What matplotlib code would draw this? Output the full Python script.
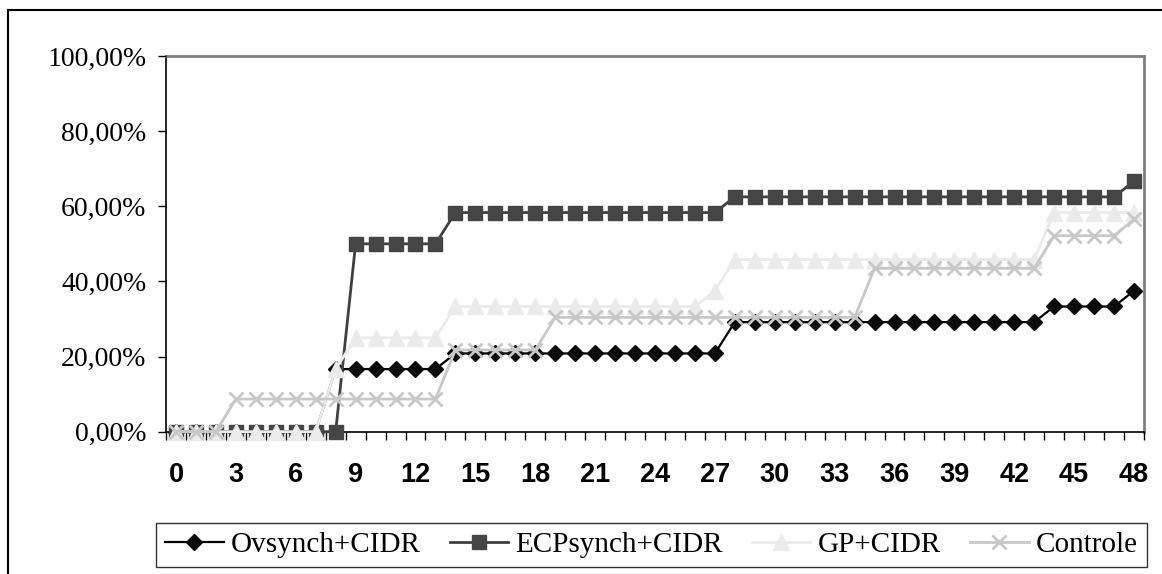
import matplotlib
matplotlib.use("Agg")
import matplotlib.pyplot as plt
from matplotlib.lines import Line2D
from matplotlib.ticker import FixedLocator, FuncFormatter

days = list(range(49))
tick_days = [0, 3, 6, 9, 12, 15, 18, 21, 24, 27, 30, 33, 36, 39, 42, 45, 48]

ovsynch = [0, 0, 0, 0, 0, 0, 0, 0,
           16.67, 16.67, 16.67, 16.67, 16.67, 16.67,
           20.83, 20.83, 20.83, 20.83, 20.83, 20.83, 20.83, 20.83, 20.83, 20.83, 20.83, 20.83, 20.83, 20.83,
           29.17, 29.17, 29.17, 29.17, 29.17, 29.17, 29.17, 29.17, 29.17, 29.17, 29.17, 29.17, 29.17, 29.17, 29.17, 29.17,
           33.33, 33.33, 33.33, 33.33,
           37.5]
ecpsynch = [0, 0, 0, 0, 0, 0, 0, 0, 0,
            50, 50, 50, 50, 50,
            58.33, 58.33, 58.33, 58.33, 58.33, 58.33, 58.33, 58.33, 58.33, 58.33, 58.33, 58.33, 58.33, 58.33,
            62.5, 62.5, 62.5, 62.5, 62.5, 62.5, 62.5, 62.5, 62.5, 62.5, 62.5, 62.5, 62.5, 62.5, 62.5, 62.5, 62.5, 62.5, 62.5, 62.5,
            66.67]
gp = [0, 0, 0, 0, 0, 0, 0, 0,
      16.67,
      25, 25, 25, 25, 25,
      33.33, 33.33, 33.33, 33.33, 33.33, 33.33, 33.33, 33.33, 33.33, 33.33, 33.33, 33.33, 33.33,
      37.5,
      45.83, 45.83, 45.83, 45.83, 45.83, 45.83, 45.83, 45.83, 45.83, 45.83, 45.83, 45.83, 45.83, 45.83, 45.83, 45.83,
      58.33, 58.33, 58.33, 58.33, 58.33]
controle = [0, 0, 0,
            8.70, 8.70, 8.70, 8.70, 8.70, 8.70, 8.70, 8.70, 8.70, 8.70, 8.70,
            21.74, 21.74, 21.74, 21.74, 21.74,
            30.43, 30.43, 30.43, 30.43, 30.43, 30.43, 30.43, 30.43, 30.43, 30.43, 30.43, 30.43, 30.43, 30.43, 30.43, 30.43,
            43.48, 43.48, 43.48, 43.48, 43.48, 43.48, 43.48, 43.48, 43.48,
            52.17, 52.17, 52.17, 52.17,
            56.52]

series_names = ["Ovsynch+CIDR", "ECPsynch+CIDR", "GP+CIDR", "Controle"]

W, H = 1162, 574
fig = plt.figure(figsize=(W / 100, H / 100), dpi=100)
ax = fig.add_axes([166 / W, 1 - 431.7 / H, (1144 - 166) / W, (431.7 - 56) / H])

ax.plot(days, ovsynch, color="#000000", lw=1.6, marker="D", ms=8,
        markerfacecolor="#0a0a0a", markeredgecolor="#0a0a0a", label=series_names[0], clip_on=False)
ax.plot(days, ecpsynch, color="#404040", lw=2.0, marker="s", ms=10,
        markerfacecolor="#454545", markeredgecolor="#454545", label=series_names[1], clip_on=False)
ax.plot(days, gp, color="#ebebeb", lw=2.0, marker="^", ms=11,
        markerfacecolor="#ebebeb", markeredgecolor="#ebebeb", label=series_names[2], clip_on=False)
ax.plot(days, controle, color="#c8c8c8", lw=2.0, marker="x", ms=10, mew=2,
        markeredgecolor="#c8c8c8", label=series_names[3], clip_on=False)

ax.set_xlim(-0.5, 48.5)
ax.set_ylim(0, 100)

serif = "Liberation Serif"
sans = "Liberation Sans"

ax.xaxis.set_major_locator(FixedLocator(tick_days))
ax.xaxis.set_minor_locator(FixedLocator([d - 0.5 for d in days] + [48.5]))
ax.tick_params(axis="x", which="major", length=0, pad=22)
ax.tick_params(axis="x", which="minor", length=6, width=1, direction="out", color="black")
for lab in ax.get_xticklabels():
    lab.set_fontfamily(sans)
    lab.set_fontweight("bold")
    lab.set_fontsize(19.5)

ax.set_yticks([0, 20, 40, 60, 80, 100])
ax.yaxis.set_major_formatter(FuncFormatter(lambda v, p: ("%.2f%%" % v).replace(".", ",")))
ax.tick_params(axis="y", length=6, width=1, direction="out", pad=8)
for lab in ax.get_yticklabels():
    lab.set_fontfamily(serif)
    lab.set_fontsize(20)

ax.spines["left"].set_color("black")
ax.spines["left"].set_linewidth(1.2)
ax.spines["bottom"].set_color("black")
ax.spines["bottom"].set_linewidth(1.2)
ax.spines["top"].set_color("#808080")
ax.spines["top"].set_linewidth(2)
ax.spines["right"].set_color("#808080")
ax.spines["right"].set_linewidth(2)
for sp in ax.spines.values():
    sp.set_zorder(1)

leg = fig.legend(loc="center", bbox_to_anchor=((159 + 1144) / 2 / W, 1 - (522 + 568) / 2 / H),
                 ncol=4, frameon=True, fancybox=False, edgecolor="black",
                 prop={"family": serif, "size": 21}, handlelength=2.0,
                 handletextpad=0.25, columnspacing=1.0, borderpad=0.3, borderaxespad=0)
leg.get_frame().set_linewidth(1.0)

# outer chart border
fig.add_artist(Line2D([8 / W, 8 / W], [0, 1 - 10 / H], transform=fig.transFigure, color="black", lw=1.5))
fig.add_artist(Line2D([8 / W, 1], [1 - 10 / H, 1 - 10 / H], transform=fig.transFigure, color="black", lw=1.5))

fig.savefig("out.png", dpi=100)
